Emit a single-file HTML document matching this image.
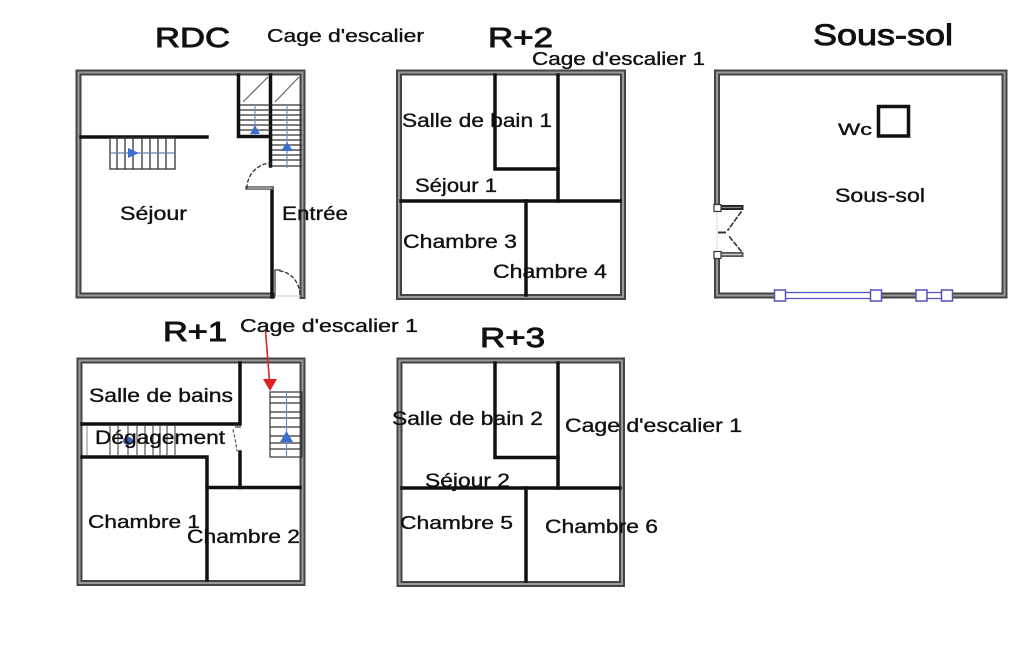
<!DOCTYPE html>
<html><head><meta charset="utf-8"><style>
html,body{margin:0;padding:0;background:#fff;}
svg{display:block;}
text{font-family:"Liberation Sans",Arial,sans-serif;fill:#111;stroke:#111;stroke-width:0.35;}
text.t{stroke-width:0.9;}
</style></head><body>
<svg width="1025" height="650" viewBox="0 0 1025 650" xmlns="http://www.w3.org/2000/svg">
<rect width="1025" height="650" fill="#fff"/>

<!-- ============ RDC ============ -->
<g fill="none" stroke-linecap="square">
  <path d="M272,295.5 L78.5,295.5 L78.5,72.5 L302.5,72.5 L302.5,296" stroke="#444" stroke-width="6"/>
  <path d="M272,295.5 L78.5,295.5 L78.5,72.5 L302.5,72.5 L302.5,296" stroke="#999" stroke-width="2"/>
  <line x1="275" y1="296" x2="300" y2="296" stroke="#ccc" stroke-width="1"/>
  <line x1="81" y1="137" x2="207" y2="137" stroke="#111" stroke-width="3.5"/>
  <path d="M238.5,75 L238.5,136.5 L270.5,136.5" stroke="#111" stroke-width="3.5"/>
  <line x1="270.5" y1="75" x2="270.5" y2="166" stroke="#111" stroke-width="3.5"/>
  <line x1="272" y1="188" x2="272" y2="297" stroke="#111" stroke-width="3.5"/>
  <path d="M247,188 L272,188" stroke="#555" stroke-width="3.5"/>
  <path d="M247,188 L272,188" stroke="#bbb" stroke-width="1.2"/>
  <path d="M247,188 A25,25 0 0 1 272,163" stroke="#333" stroke-width="1.3" stroke-dasharray="3,3"/>
  <path d="M275,296 L275,270 L280,270" stroke="#555" stroke-width="1.4"/>
  <path d="M280,271 A22,25 0 0 1 300,296" stroke="#333" stroke-width="1.3" stroke-dasharray="3,3"/>
</g>
<g stroke="#333" stroke-width="1.3" fill="none">
  <rect x="110" y="138" width="65" height="31"/>
  <line x1="117" y1="138" x2="117" y2="169"/><line x1="125" y1="138" x2="125" y2="169"/>
  <line x1="133" y1="138" x2="133" y2="169"/><line x1="142" y1="138" x2="142" y2="169"/>
  <line x1="150" y1="138" x2="150" y2="169"/><line x1="158" y1="138" x2="158" y2="169"/>
  <line x1="166" y1="138" x2="166" y2="169"/>
  <line x1="110" y1="153" x2="175" y2="153" stroke="#6a80b0"/>
</g>
<polygon points="128,148 139,153 128,158" fill="#3a6fd0"/>
<g stroke="#333" stroke-width="1.2" fill="none">
  <line x1="243" y1="102" x2="268" y2="77" stroke="#666"/>
  <line x1="240" y1="105" x2="270" y2="105"/><line x1="240" y1="110" x2="270" y2="110"/>
  <line x1="240" y1="115" x2="270" y2="115"/><line x1="240" y1="120" x2="270" y2="120"/>
  <line x1="240" y1="125" x2="270" y2="125"/><line x1="240" y1="130" x2="270" y2="130"/>
  <line x1="255" y1="105" x2="255" y2="135" stroke="#7090c0"/>
</g>
<polygon points="255,125 250,134 260,134" fill="#3a6fd0"/>
<g stroke="#333" stroke-width="1.2" fill="none">
  <line x1="275" y1="102" x2="299" y2="77" stroke="#666"/>
  <line x1="272" y1="105" x2="302" y2="105"/><line x1="272" y1="110" x2="302" y2="110"/>
  <line x1="272" y1="115" x2="302" y2="115"/><line x1="272" y1="120" x2="302" y2="120"/>
  <line x1="272" y1="125" x2="302" y2="125"/><line x1="272" y1="130" x2="302" y2="130"/>
  <line x1="272" y1="135" x2="302" y2="135"/><line x1="272" y1="140" x2="302" y2="140"/>
  <line x1="272" y1="145" x2="302" y2="145"/><line x1="272" y1="150" x2="302" y2="150"/>
  <line x1="272" y1="155" x2="302" y2="155"/><line x1="272" y1="160" x2="302" y2="160"/>
  <line x1="272" y1="166" x2="302" y2="166"/>
  <line x1="287" y1="105" x2="287" y2="168" stroke="#7090c0"/>
</g>
<polygon points="287,142 281,151 293,151" fill="#3a6fd0"/>

<text class="t" x="155" y="47" font-size="28" textLength="75" lengthAdjust="spacingAndGlyphs">RDC</text>
<text x="267" y="42" font-size="18" textLength="157" lengthAdjust="spacingAndGlyphs">Cage d'escalier</text>
<text x="120" y="220" font-size="19" textLength="67" lengthAdjust="spacingAndGlyphs">Séjour</text>
<text x="282" y="220" font-size="19" textLength="66" lengthAdjust="spacingAndGlyphs">Entrée</text>

<!-- ============ R+2 ============ -->
<g fill="none" stroke-linecap="square">
  <rect x="399" y="72.5" width="224" height="224.5" stroke="#444" stroke-width="6"/>
  <rect x="399" y="72.5" width="224" height="224.5" stroke="#999" stroke-width="2"/>
  <path d="M495,75 L495,169 L558,169" stroke="#111" stroke-width="3.5"/>
  <line x1="558" y1="75" x2="558" y2="201" stroke="#111" stroke-width="3.5"/>
  <line x1="401" y1="201" x2="620" y2="201" stroke="#111" stroke-width="3.5"/>
  <line x1="526" y1="201" x2="526" y2="295" stroke="#111" stroke-width="3.5"/>
</g>
<text class="t" x="488" y="47" font-size="28" textLength="65" lengthAdjust="spacingAndGlyphs">R+2</text>
<text x="532" y="65" font-size="18" textLength="173" lengthAdjust="spacingAndGlyphs">Cage d'escalier 1</text>
<text x="402" y="127" font-size="19" textLength="150" lengthAdjust="spacingAndGlyphs">Salle de bain 1</text>
<text x="415" y="192" font-size="19" textLength="82" lengthAdjust="spacingAndGlyphs">Séjour 1</text>
<text x="403" y="248" font-size="19" textLength="114" lengthAdjust="spacingAndGlyphs">Chambre 3</text>
<text x="493" y="278" font-size="19" textLength="114" lengthAdjust="spacingAndGlyphs">Chambre 4</text>

<!-- ============ Sous-sol ============ -->
<g fill="none" stroke-linecap="square">
  <path d="M717,208 L717,72.5 L1004.5,72.5 L1004.5,295.5 L717,295.5 L717,255" stroke="#444" stroke-width="6"/>
  <path d="M717,208 L717,72.5 L1004.5,72.5 L1004.5,295.5 L717,295.5 L717,255" stroke="#999" stroke-width="2"/>
  <line x1="720" y1="207.5" x2="741" y2="207.5" stroke="#222" stroke-width="5"/>
  <line x1="720" y1="207.5" x2="741" y2="207.5" stroke="#888" stroke-width="1.2"/>
  <line x1="720" y1="254.5" x2="741" y2="254.5" stroke="#555" stroke-width="5"/>
  <line x1="720" y1="254.5" x2="741" y2="254.5" stroke="#ccc" stroke-width="1.5"/>
  <path d="M741,212 L728,230" stroke="#333" stroke-width="1.6" stroke-dasharray="4,3"/>
  <path d="M741,251 L728,235" stroke="#333" stroke-width="1.6" stroke-dasharray="4,3"/>
  <line x1="719" y1="232.5" x2="725" y2="232.5" stroke="#333" stroke-width="2"/>
  <line x1="717" y1="211" x2="717" y2="252" stroke="#ddd" stroke-width="1"/>
</g>
<rect x="714" y="204.5" width="7" height="7" fill="#fff" stroke="#333" stroke-width="1.2"/>
<rect x="714" y="251.5" width="7" height="7" fill="#fff" stroke="#333" stroke-width="1.2"/>
<rect x="780" y="292.5" width="96" height="6" fill="#fff" stroke="#5555c8" stroke-width="1.3"/>
<rect x="922" y="292.5" width="25" height="6" fill="#fff" stroke="#5555c8" stroke-width="1.3"/>
<g fill="#fff" stroke="#5050c0" stroke-width="1.5">
  <rect x="774.5" y="290" width="11" height="11"/>
  <rect x="870.5" y="290" width="11" height="11"/>
  <rect x="916" y="290" width="11" height="11"/>
  <rect x="941.5" y="290" width="11" height="11"/>
</g>
<rect x="878.5" y="106.5" width="30" height="29.5" fill="none" stroke="#111" stroke-width="3.5"/>
<text class="t" x="813" y="45" font-size="30" textLength="140" lengthAdjust="spacingAndGlyphs">Sous-sol</text>
<text x="838" y="135" font-size="17" textLength="34" lengthAdjust="spacingAndGlyphs">Wc</text>
<text x="835" y="202" font-size="19" textLength="90" lengthAdjust="spacingAndGlyphs">Sous-sol</text>

<!-- ============ R+1 ============ -->
<g fill="none" stroke-linecap="square">
  <rect x="79.5" y="360.5" width="223" height="222.5" stroke="#444" stroke-width="6"/>
  <rect x="79.5" y="360.5" width="223" height="222.5" stroke="#999" stroke-width="2"/>
  <path d="M240,363 L240,424 L82,424" stroke="#111" stroke-width="3.5"/>
  <path d="M82,457 L207,457 L207,580" stroke="#111" stroke-width="3.5"/>
  <path d="M240,452 L240,487.5" stroke="#111" stroke-width="3.5"/>
  <line x1="207" y1="487.5" x2="300" y2="487.5" stroke="#111" stroke-width="3.5"/>
  <line x1="236" y1="427" x2="240" y2="427" stroke="#888" stroke-width="2"/>
  <path d="M233,430 Q236,442 237,451" stroke="#555" stroke-width="1.2" stroke-dasharray="2,3"/>
</g>
<g stroke="#555" stroke-width="1.2">
  <line x1="87" y1="426" x2="87" y2="455" stroke="#999"/>
  <line x1="110" y1="426" x2="110" y2="455"/><line x1="118" y1="426" x2="118" y2="455"/>
  <line x1="128" y1="426" x2="128" y2="455"/><line x1="137" y1="426" x2="137" y2="455"/>
  <line x1="145" y1="426" x2="145" y2="455"/><line x1="153" y1="426" x2="153" y2="455"/>
  <line x1="160" y1="426" x2="160" y2="455"/><line x1="167" y1="426" x2="167" y2="455"/>
  <line x1="175" y1="426" x2="175" y2="455"/>
</g>
<ellipse cx="128" cy="441" rx="5" ry="4" fill="#3a5fc0"/>
<g stroke="#333" stroke-width="1.2" fill="none">
  <rect x="270" y="392" width="32" height="65"/>
  <line x1="270" y1="397" x2="302" y2="397"/><line x1="270" y1="403" x2="302" y2="403"/>
  <line x1="270" y1="412" x2="302" y2="412"/><line x1="270" y1="418" x2="302" y2="418"/>
  <line x1="270" y1="427" x2="302" y2="427"/><line x1="270" y1="436" x2="302" y2="436"/>
  <line x1="270" y1="443" x2="302" y2="443"/><line x1="270" y1="449" x2="302" y2="449"/>
  <line x1="286.5" y1="392" x2="286.5" y2="457" stroke="#6a8cd0"/>
</g>
<polygon points="286.5,431 280,442 293,442" fill="#3a6fd0"/>
<line x1="265.5" y1="331" x2="269.5" y2="381" stroke="#d42a2a" stroke-width="1.6"/>
<polygon points="263,379 277,379 270,391" fill="#e02020"/>

<text class="t" x="163" y="341" font-size="28" textLength="64" lengthAdjust="spacingAndGlyphs">R+1</text>
<text x="240" y="332" font-size="18" textLength="178" lengthAdjust="spacingAndGlyphs">Cage d'escalier 1</text>
<text x="89" y="402" font-size="19" textLength="144" lengthAdjust="spacingAndGlyphs">Salle de bains</text>
<text x="95" y="444" font-size="19" textLength="130" lengthAdjust="spacingAndGlyphs">Dégagement</text>
<text x="88" y="528" font-size="18" textLength="112" lengthAdjust="spacingAndGlyphs">Chambre 1</text>
<text x="187" y="543" font-size="19" textLength="113" lengthAdjust="spacingAndGlyphs">Chambre 2</text>

<!-- ============ R+3 ============ -->
<g fill="none" stroke-linecap="square">
  <rect x="399.5" y="360.5" width="222.5" height="223.5" stroke="#444" stroke-width="6"/>
  <rect x="399.5" y="360.5" width="222.5" height="223.5" stroke="#999" stroke-width="2"/>
  <path d="M495,363 L495,457.5 L558,457.5" stroke="#111" stroke-width="3.5"/>
  <line x1="558" y1="363" x2="558" y2="488" stroke="#111" stroke-width="3.5"/>
  <line x1="402" y1="488" x2="620" y2="488" stroke="#111" stroke-width="3.5"/>
  <line x1="526" y1="488" x2="526" y2="581" stroke="#111" stroke-width="3.5"/>
</g>
<text class="t" x="480" y="347" font-size="28" textLength="65" lengthAdjust="spacingAndGlyphs">R+3</text>
<text x="392" y="425" font-size="19" textLength="151" lengthAdjust="spacingAndGlyphs">Salle de bain 2</text>
<text x="565" y="432" font-size="19" textLength="177" lengthAdjust="spacingAndGlyphs">Cage d'escalier 1</text>
<text x="425" y="487" font-size="19" textLength="85" lengthAdjust="spacingAndGlyphs">Séjour 2</text>
<text x="400" y="529" font-size="18" textLength="113" lengthAdjust="spacingAndGlyphs">Chambre 5</text>
<text x="545" y="533" font-size="19" textLength="113" lengthAdjust="spacingAndGlyphs">Chambre 6</text>
</svg>
</body></html>
